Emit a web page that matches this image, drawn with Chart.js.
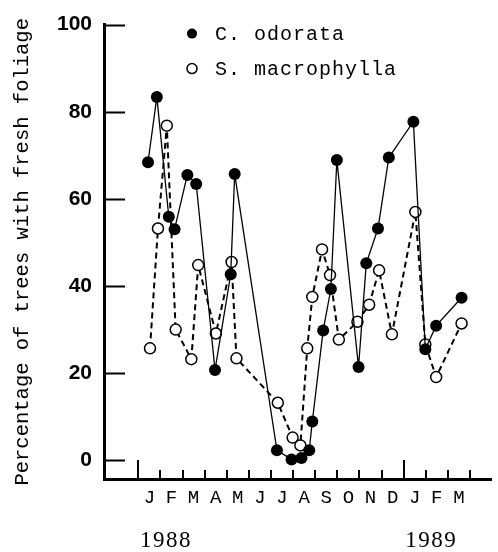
<!DOCTYPE html>
<html>
<head>
<meta charset="utf-8">
<script src="https://cdn.jsdelivr.net/npm/chart.js@4"></script>
<style>
    html, body { margin: 0; padding: 0; background: #fff; }
    #wrap { width: 498px; height: 552px; }
</style>
</head>
<body>
<div id="wrap"><canvas id="foliage-chart" width="498" height="552"></canvas></div>
<script>
// month position: 0 = start of January 1988
const odorataMonths = [0.44, 0.84, 1.38, 1.64, 2.22, 2.62, 3.47, 4.18, 4.36, 6.27, 6.93, 7.38, 7.73, 7.87, 8.36, 8.71, 8.98, 9.96, 10.31, 10.84, 11.33, 12.44, 12.98, 13.47, 14.62];
const odorataValues = [68.4, 83.4, 55.9, 53.0, 65.5, 63.4, 20.7, 42.7, 65.7, 2.3, 0.2, 0.5, 2.3, 8.9, 29.8, 39.3, 68.9, 21.4, 45.2, 53.2, 69.5, 77.7, 25.5, 30.9, 37.3];

const macroMonths = [0.53, 0.89, 1.29, 1.69, 2.4, 2.71, 3.51, 4.22, 4.44, 6.31, 6.98, 7.33, 7.64, 7.87, 8.31, 8.67, 9.07, 9.91, 10.44, 10.89, 11.47, 12.53, 12.98, 13.47, 14.62];
const macroValues = [25.7, 53.2, 76.8, 30.0, 23.2, 44.8, 29.1, 45.5, 23.4, 13.2, 5.2, 3.4, 25.7, 37.5, 48.4, 42.5, 27.7, 31.8, 35.7, 43.6, 28.9, 57.0, 26.6, 19.1, 31.4];

const monthLabels = ['J', 'F', 'M', 'A', 'M', 'J', 'J', 'A', 'S', 'O', 'N', 'D', 'J', 'F', 'M'];
const yearLabels = ['1988', '1989'];
const yTicks = [0, 20, 40, 60, 80, 100];

const seriesNames = ['C. odorata', 'S. macrophylla'];

function toPoints(xs, ys) {
    return xs.map((x, i) => ({ x: x, y: ys[i] }));
}

const axisMarks = {
    id: 'axisMarks',
    afterDraw(chart) {
        const ctx = chart.ctx;
        const area = chart.chartArea;
        const xs = chart.scales.x;
        const ys = chart.scales.y;

        ctx.save();
        ctx.strokeStyle = '#000';
        ctx.lineWidth = 2;

        // inward ticks on the y axis
        yTicks.forEach(v => {
            const py = Math.round(ys.getPixelForValue(v)) + 0.5;
            ctx.beginPath();
            ctx.moveTo(area.left, py);
            ctx.lineTo(area.left + 21, py);
            ctx.stroke();
        });

        // month boundaries on the x axis, taller at January
        for (let k = 0; k <= monthLabels.length; k++) {
            const px = Math.round(xs.getPixelForValue(k));
            const len = k % 12 === 0 ? 19 : 9;
            ctx.beginPath();
            ctx.moveTo(px, area.bottom);
            ctx.lineTo(px, area.bottom - len);
            ctx.stroke();
        }

        // year labels
        ctx.fillStyle = '#000';
        ctx.font = '23px "Liberation Serif"';
        ctx.letterSpacing = '1.5px';
        ctx.textAlign = 'center';
        ctx.textBaseline = 'middle';
        yearLabels.forEach((label, i) => {
            ctx.fillText(label, xs.getPixelForValue(i * 12 + 1.25), 541);
        });

        // legend
        ctx.font = '20px "Liberation Mono"';
        ctx.letterSpacing = '1px';
        ctx.textAlign = 'left';
        chart.data.datasets.forEach((ds, i) => {
            const cy = area.top + 9 + i * 35;
            const cx = area.left + 88;
            ctx.beginPath();
            ctx.arc(cx, cy, 5, 0, Math.PI * 2);
            if (i === 0) {
                ctx.fillStyle = '#000';
                ctx.fill();
            } else {
                ctx.lineWidth = 1.5;
                ctx.stroke();
            }
            ctx.fillStyle = '#000';
            ctx.fillText(ds.label, cx + 23, cy + 1);
        });
        ctx.restore();
    }
};

Chart.defaults.color = '#000';
Chart.defaults.animation = false;

new Chart(document.getElementById('foliage-chart'), {
    type: 'line',
    data: {
        datasets: [{
            label: seriesNames[0],
            data: toPoints(odorataMonths, odorataValues),
            borderColor: '#000',
            borderWidth: 1.3,
            pointRadius: 6,
            pointBackgroundColor: '#000',
            pointBorderColor: '#000',
            pointBorderWidth: 0,
            tension: 0
        }, {
            label: seriesNames[1],
            data: toPoints(macroMonths, macroValues),
            borderColor: '#000',
            borderWidth: 2,
            borderDash: [6, 4],
            pointRadius: 5.5,
            pointBackgroundColor: '#fff',
            pointBorderColor: '#000',
            pointBorderWidth: 1.5,
            tension: 0
        }]
    },
    options: {
        responsive: false,
        layout: {
            padding: { top: 20, right: 0, left: 0, bottom: 0 }
        },
        plugins: {
            legend: { display: false },
            tooltip: { enabled: false }
        },
        scales: {
            x: {
                type: 'linear',
                min: -1.55,
                max: 15.95,
                afterBuildTicks: scale => {
                    scale.ticks = monthLabels.map((m, i) => ({ value: i + 0.5 }));
                },
                afterFit: scale => { scale.height = 73; },
                grid: { display: false, drawTicks: false },
                border: { display: true, color: '#000', width: 3 },
                ticks: {
                    autoSkip: false,
                    maxRotation: 0,
                    padding: 8,
                    font: { family: 'Liberation Mono', size: 19 },
                    callback: (v, i) => monthLabels[i]
                }
            },
            y: {
                min: -4.3,
                max: 100,
                afterBuildTicks: scale => {
                    scale.ticks = yTicks.map(v => ({ value: v }));
                },
                afterFit: scale => { scale.width = 104; },
                grid: { display: false, drawTicks: false },
                border: { display: true, color: '#000', width: 3 },
                ticks: {
                    padding: 12,
                    font: { family: 'Liberation Sans', size: 21, weight: 'bold' }
                },
                title: {
                    display: true,
                    text: 'Percentage of trees with fresh foliage',
                    font: { family: 'Liberation Mono', size: 20.5 },
                    padding: { top: 10, bottom: 0 }
                }
            }
        }
    },
    plugins: [axisMarks]
});
</script>
</body>
</html>
